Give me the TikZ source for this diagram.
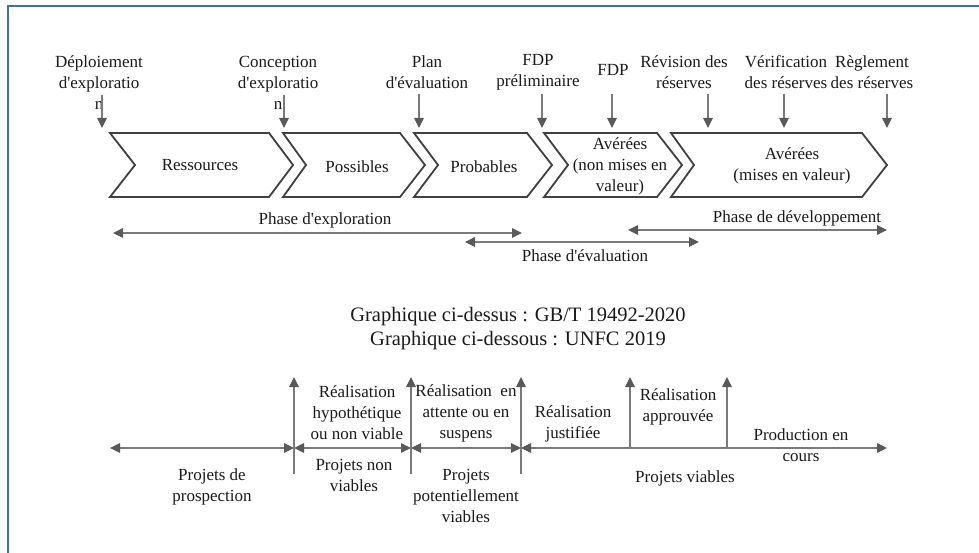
\documentclass[tikz,border=0pt]{standalone}
\usepackage{fontspec}
\setmainfont{Liberation Serif}
\usetikzlibrary{arrows.meta}

\definecolor{framebl}{HTML}{41719C}
\definecolor{arrgray}{HTML}{7A7A7A}
\definecolor{headgray}{HTML}{595959}
\definecolor{chevgray}{HTML}{404040}
\definecolor{txt}{HTML}{1A1A1A}

% straight typewriter-style apostrophe
\newcommand{\apos}{\textquotesingle}

\tikzset{
  lbl/.style={align=center, inner sep=0pt, text=txt,
    font=\fontsize{17}{21}\selectfont},
  biglbl/.style={align=center, inner sep=0pt, text=txt,
    font=\fontsize{20.5}{24}\selectfont},
  chev/.style={draw=chevgray, line width=1.8pt, line join=miter},
  onearrow/.style={draw=arrgray, line width=1.2pt, -{Triangle[length=10pt,width=9.5pt,color=headgray]}},
  twoarrow/.style={draw=arrgray, line width=1.2pt,
    {Triangle[length=10pt,width=9.5pt,color=headgray]}-{Triangle[length=10pt,width=9.5pt,color=headgray]}},
}

\begin{document}
\begin{tikzpicture}[x=1pt, y=-1pt]
\useasboundingbox (0,0) rectangle (979,553);

% outer frame (open towards the right and bottom)
\draw[framebl, line width=2.8pt] (8,560) -- (8,6) -- (990,6);

% ---------- upper chart: reserve categories ----------
\draw[chev] (110,133) -- (269,133) -- (293,165) -- (269,197) -- (110,197) -- (135,165) -- cycle;
\draw[chev] (283,133) -- (400,133) -- (425,165) -- (400,197) -- (283,197) -- (306,165) -- cycle;
\draw[chev] (414,133) -- (527,133) -- (552,165) -- (527,197) -- (414,197) -- (438,165) -- cycle;
\draw[chev] (544,133) -- (657,133) -- (682,165) -- (657,197) -- (544,197) -- (568,165) -- cycle;
\draw[chev] (671,133) -- (862,133) -- (887,165) -- (862,197) -- (671,197) -- (694,165) -- cycle;

\node[lbl] (res)  at (200,165) {Ressources};
\node[lbl] (pos)  at (357,167) {Possibles};
\node[lbl] (prob) at (484,167) {Probables};
\node[lbl] (avn)  at (620,166) {Avérées\\(non mises en\\valeur)};
\node[lbl] (avm)  at (792,166) {Avérées\\(mises en valeur)};

% milestones above the chevrons
\node[lbl] (m1) at (99,83)  {Déploiement\\d\apos exploratio\\n};
\node[lbl] (m2) at (278,83) {Conception\\d\apos exploratio\\n};
\node[lbl] (m3) at (427,72) {Plan\\d\apos évaluation};
\node[lbl] (m4) at (538,72) {FDP\\préliminaire};
\node[lbl] (m5) at (613,70) {FDP};
\node[lbl] (m6) at (684,72) {Révision des\\réserves};
\node[lbl] (m7) at (786,72) {Vérification\\des réserves};
\node[lbl] (m8) at (872,72) {Règlement\\des réserves};

\foreach \n/\x/\y in {1/102/95, 2/284/95, 3/419/94, 4/542/94, 5/612/94, 6/708/94, 7/784/94, 8/887/94} {
  \coordinate (a\n) at (\x,\y);
  \coordinate (b\n) at (\x,128);
  \draw[onearrow] (a\n) -- (b\n);
}

% phases
\coordinate (pe1) at (113,233);  \coordinate (pe2) at (522,233);
\coordinate (pv1) at (465,242);  \coordinate (pv2) at (699,242);
\coordinate (pd1) at (628,230);  \coordinate (pd2) at (887,230);
\draw[twoarrow] (pe1) -- (pe2);
\draw[twoarrow] (pv1) -- (pv2);
\draw[twoarrow] (pd1) -- (pd2);
\node[lbl] (phe) at (325,220) {Phase d\apos exploration};
\node[lbl] (phv) at (585,256) {Phase d\apos évaluation};
\node[lbl] (phd) at (797,218) {Phase de développement};

% captions
\node[biglbl] (cap) at (518,329) {Graphique ci-dessus : GB/T 19492-2020\\Graphique ci-dessous : UNFC 2019};

% ---------- lower chart: project categories ----------
\coordinate (h0) at (110,448);
\coordinate (h1) at (294,448);
\coordinate (h2) at (411,448);
\coordinate (h3) at (521,448);
\coordinate (h4) at (887,448);
\draw[twoarrow] (h0) -- (h1);
\draw[twoarrow] (h1) -- (h2);
\draw[twoarrow] (h2) -- (h3);
\draw[twoarrow] (h3) -- (h4);

\foreach \n/\x in {1/294, 2/411, 3/521} {
  \coordinate (vb\n) at (\x,474);
  \coordinate (vt\n) at (\x,377);
  \draw[onearrow] (vb\n) -- (vt\n);
}
\coordinate (vb4) at (630,448); \coordinate (vt4) at (630,377);
\coordinate (vb5) at (727,448); \coordinate (vt5) at (727,377);
\draw[onearrow] (vb4) -- (vt4);
\draw[onearrow] (vb5) -- (vt5);

\node[lbl] (r1) at (357,413) {Réalisation\\hypothétique\\ou non viable};
\node[lbl] (r2) at (466,413) {Réalisation\enspace en\\attente ou en\\suspens};
\node[lbl] (r3) at (573,424) {Réalisation\\justifiée};
\node[lbl] (r4) at (678,407) {Réalisation\\approuvée};
\node[lbl] (r5) at (801,445) {Production en\\cours};

\node[lbl] (p1) at (212,487) {Projets de\\prospection};
\node[lbl] (p2) at (354,475) {Projets non\\viables};
\node[lbl] (p3) at (466,496) {Projets\\potentiellement\\viables};
\node[lbl] (p4) at (685,478) {Projets viables};
\end{tikzpicture}
\end{document}
